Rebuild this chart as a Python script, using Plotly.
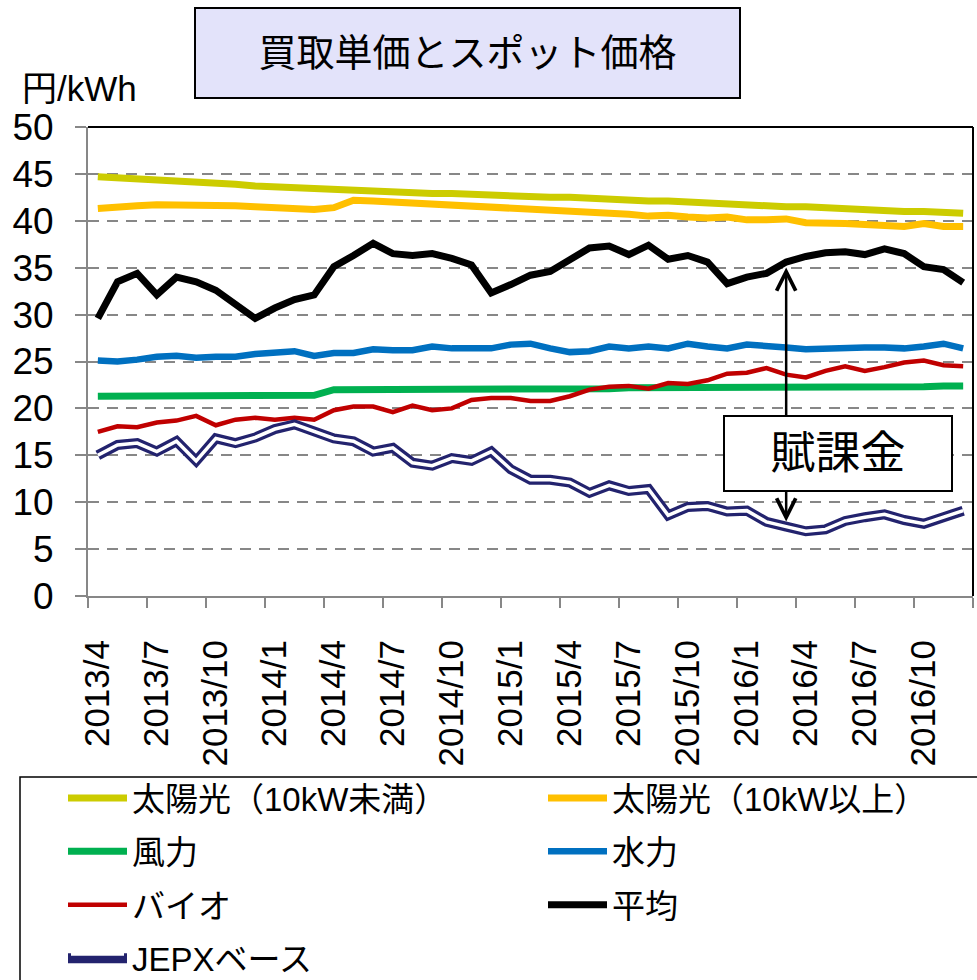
import plotly.graph_objects as go

# 月次（2013/4〜2016/12）
months = ["2013/4", "2013/5", "2013/6", "2013/7", "2013/8", "2013/9", "2013/10", "2013/11", "2013/12",
          "2014/1", "2014/2", "2014/3", "2014/4", "2014/5", "2014/6", "2014/7", "2014/8", "2014/9",
          "2014/10", "2014/11", "2014/12", "2015/1", "2015/2", "2015/3", "2015/4", "2015/5", "2015/6",
          "2015/7", "2015/8", "2015/9", "2015/10", "2015/11", "2015/12", "2016/1", "2016/2", "2016/3",
          "2016/4", "2016/5", "2016/6", "2016/7", "2016/8", "2016/9", "2016/10", "2016/11", "2016/12"]

# 円/kWh
solar_small = [44.7, 44.6, 44.4, 44.3, 44.2, 44.2, 44.1, 43.9, 43.7, 43.6, 43.5, 43.5, 43.4, 43.3, 43.2,
               43.0, 42.9, 42.9, 42.9, 42.8, 42.7, 42.6, 42.6, 42.5, 42.5, 42.4, 42.3, 42.1, 42.1, 42.1,
               42.0, 41.9, 41.7, 41.6, 41.6, 41.5, 41.5, 41.4, 41.3, 41.2, 41.0, 41.0, 41.0, 40.9, 40.8]
solar_large = [41.3, 41.5, 41.6, 41.7, 41.7, 41.7, 41.6, 41.6, 41.5, 41.4, 41.3, 41.2, 41.4, 42.2, 42.1,
               42.0, 41.8, 41.7, 41.6, 41.5, 41.4, 41.3, 41.3, 41.2, 41.0, 40.9, 40.8, 40.7, 40.5, 40.6,
               40.4, 40.3, 40.4, 40.1, 40.1, 40.2, 39.8, 39.8, 39.7, 39.6, 39.5, 39.4, 39.7, 39.4, 39.4]
wind = [21.3, 21.3, 21.3, 21.3, 21.3, 21.3, 21.3, 21.3, 21.3, 21.3, 21.3, 21.4, 22.0, 22.0, 22.0,
        22.0, 22.0, 22.0, 22.0, 22.0, 22.1, 22.1, 22.1, 22.1, 22.1, 22.1, 22.1, 22.2, 22.2, 22.2,
        22.2, 22.2, 22.2, 22.2, 22.2, 22.3, 22.3, 22.3, 22.3, 22.3, 22.3, 22.3, 22.3, 22.4, 22.4]
hydro = [25.1, 25.0, 25.2, 25.5, 25.6, 25.4, 25.5, 25.5, 25.8, 26.0, 26.1, 25.6, 25.9, 25.9, 26.3,
         26.2, 26.2, 26.6, 26.4, 26.4, 26.4, 26.8, 26.9, 26.4, 26.0, 26.1, 26.6, 26.4, 26.6, 26.4,
         26.9, 26.6, 26.4, 26.8, 26.7, 26.5, 26.3, 26.4, 26.4, 26.5, 26.5, 26.4, 26.6, 26.9, 26.4]
bio = [17.5, 18.1, 18.0, 18.5, 18.7, 19.2, 18.2, 18.8, 19.0, 18.8, 19.0, 18.8, 19.8, 20.2, 20.2,
       19.6, 20.3, 19.8, 20.0, 20.9, 21.1, 21.1, 20.8, 20.8, 21.3, 22.0, 22.3, 22.4, 22.1, 22.7,
       22.6, 23.0, 23.7, 23.8, 24.3, 23.6, 23.3, 24.0, 24.5, 24.0, 24.4, 24.9, 25.1, 24.6, 24.5]
average = [29.6, 33.5, 34.4, 32.1, 34.0, 33.5, 32.6, 31.0, 29.6, 30.7, 31.6, 32.1, 35.1, 36.3, 37.6,
           36.5, 36.3, 36.5, 36.0, 35.3, 32.3, 33.2, 34.2, 34.6, 35.9, 37.1, 37.3, 36.4, 37.4, 35.9,
           36.3, 35.6, 33.3, 34.0, 34.4, 35.6, 36.2, 36.6, 36.7, 36.4, 37.0, 36.5, 35.1, 34.8, 33.4]
jepx = [15.0, 16.1, 16.3, 15.4, 16.5, 14.4, 16.8, 16.3, 16.9, 17.8, 18.3, 17.5, 16.8, 16.5, 15.4,
        15.8, 14.2, 13.9, 14.7, 14.4, 15.4, 13.5, 12.4, 12.4, 12.1, 11.0, 11.8, 11.2, 11.4, 8.6,
        9.5, 9.6, 9.0, 9.1, 7.9, 7.4, 6.9, 7.1, 8.0, 8.4, 8.7, 8.1, 7.7, 8.4, 9.1]

# 賦課金の矢印を引く月
levy_month = "2016/3"

x = list(range(len(months)))
FONT = "Liberation Sans, Arial, Noto Sans CJK JP, sans-serif"
GRAY = "#878787"
NAVY = "#23236E"

series = [
    ("太陽光（10kW未満）", solar_small, "#CCCC00", 7, "legend"),
    ("太陽光（10kW以上）", solar_large, "#FFC000", 7, "legend2"),
    ("風力", wind, "#00B050", 7, "legend"),
    ("水力", hydro, "#0070C0", 6.5, "legend2"),
    ("バイオ", bio, "#C00000", 4.5, "legend"),
    ("平均", average, "#000000", 7, "legend2"),
]

fig = go.Figure()
for name, vals, color, w, lg in series:
    fig.add_trace(go.Scatter(
        x=x, y=vals, name=name, mode="lines", legend=lg, legendgroup=name,
        line=dict(color=color, width=w),
    ))

# JEPXベース：紺の太線に白の細線を重ねて二重線にする（白線は凡例3で見本の中抜きに使う）
fig.add_trace(go.Scatter(x=x, y=jepx, name="JEPXベース", mode="lines", legend="legend",
                         legendgroup="jepx", line=dict(color=NAVY, width=10)))
fig.add_trace(go.Scatter(x=x, y=jepx, name=" ", mode="lines", legend="legend3",
                         hoverinfo="skip", line=dict(color="white", width=3.5)))

L, R, T, B = 88, 4, 127, 384
W, H = 977, 980
pw, ph = W - L - R, H - T - B


def px(xp):
    return (xp - L) / pw


def py(yp):
    return (H - B - yp) / ph


boundaries = [v - 0.5 for v in x[::3]] + [x[-1] + 0.5]

fig.update_xaxes(
    range=[-0.5, len(months) - 0.5], tickmode="array", tickvals=x[::3], ticktext=months[::3],
    tickangle=-90, ticks="", showgrid=False, zeroline=False,
    showline=True, linecolor=GRAY, linewidth=2,
    tickfont=dict(family=FONT, size=35, color="black"), ticklabelstandoff=28,
    minor=dict(tickmode="array", tickvals=boundaries, ticks="outside", ticklen=10,
               tickwidth=2, tickcolor=GRAY, showgrid=False),
)
fig.update_yaxes(
    range=[0, 50], dtick=5, tick0=0, showgrid=True, gridcolor=GRAY, gridwidth=2,
    griddash="11px,8px", zeroline=False, showline=True, linecolor=GRAY, linewidth=2,
    ticks="outside", ticklen=11, tickwidth=2, tickcolor=GRAY,
    tickfont=dict(family=FONT, size=37, color="black"), ticklabelstandoff=14,
)

shapes = [
    # 枠線（上・右）
    dict(type="line", xref="paper", yref="paper", x0=0, x1=1, y0=1, y1=1,
         line=dict(color="black", width=2)),
    dict(type="line", xref="paper", yref="paper", x0=1, x1=1, y0=0, y1=1,
         line=dict(color="black", width=2)),
    # 凡例の枠
    dict(type="rect", xref="paper", yref="paper", x0=px(20), x1=px(990), y0=py(777), y1=py(995),
         line=dict(color="black", width=1.5), fillcolor="rgba(0,0,0,0)"),
]

ai = months.index(levy_month)
annotations = [
    dict(text="円/kWh", xref="paper", yref="paper", x=px(20), y=py(88), xanchor="left",
         yanchor="middle", showarrow=False, font=dict(family=FONT, size=35, color="black")),
    dict(text="買取単価とスポット価格", xref="paper", yref="paper", x=px(467), y=py(53),
         xanchor="center", yanchor="middle", showarrow=False, width=541, height=86,
         bgcolor="#E3E3FA", bordercolor="black", borderwidth=2,
         font=dict(family=FONT, size=38, color="black")),
    dict(text="", x=ai, y=jepx[ai], ax=ai, ay=average[ai], xref="x", yref="y", axref="x", ayref="y",
         showarrow=True, arrowside="end+start", arrowhead=5, startarrowhead=5, arrowsize=1.5,
         startarrowsize=1.5, arrowwidth=2.5, arrowcolor="black", standoff=5, startstandoff=4),
    dict(text="賦課金", xref="paper", yref="paper", x=px(838), y=py(453), xanchor="center",
         yanchor="middle", showarrow=False, width=224, height=71, bgcolor="white",
         bordercolor="black", borderwidth=2, font=dict(family=FONT, size=45, color="black")),
]

legend_font = dict(family=FONT, size=33, color="black")
LEG_TOP = 770
ROW_PITCH = 52
leg_common = dict(xanchor="left", yanchor="top", font=legend_font, itemwidth=59,
                  tracegroupgap=7.5, bgcolor="rgba(0,0,0,0)", borderwidth=0)
fig.update_layout(
    width=W, height=H, margin=dict(l=L, r=R, t=T, b=B, autoexpand=False),
    paper_bgcolor="white", plot_bgcolor="white",
    shapes=shapes, annotations=annotations,
    legend=dict(x=px(63), y=py(LEG_TOP), **leg_common),
    legend2=dict(x=px(543), y=py(LEG_TOP), **leg_common),
    legend3=dict(x=px(66), y=py(LEG_TOP + 3 * ROW_PITCH), xanchor="left", yanchor="top",
                 font=legend_font, itemwidth=53, bgcolor="rgba(0,0,0,0)", borderwidth=0),
    showlegend=True,
)

fig.write_html("out.html")
